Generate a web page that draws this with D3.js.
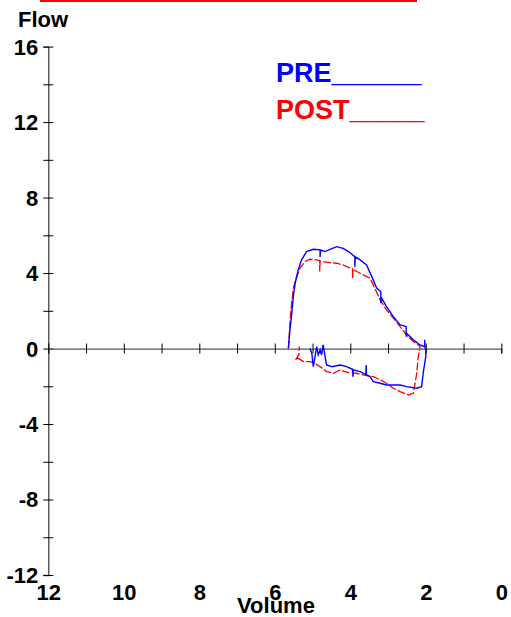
<!DOCTYPE html>
<html>
<head>
<meta charset="utf-8">
<script src="https://cdn.jsdelivr.net/npm/d3@7"></script>
<style>
  body { margin: 0; background: #fff; }
  text { font-family: "Liberation Sans", Arial, sans-serif; font-weight: bold; }
</style>
</head>
<body>
<svg id="chart" width="511" height="617"></svg>
<script>
// flow-volume loops (volume in L, flow in L/s)
var preVolume = [5.64, 5.60, 5.55, 5.51, 5.46, 5.38, 5.29, 5.16, 4.98, 4.80, 4.80, 4.79, 4.67, 4.54, 4.36, 4.19, 4.05, 3.88, 3.88, 3.87, 3.74, 3.57, 3.43, 3.30, 3.19, 3.19, 3.17, 3.04, 2.86, 2.68, 2.52, 2.52, 2.51, 2.33, 2.15, 2.03, 2.03, 2.02, 2.00,
  2.00, 2.07, 2.11, 2.24, 2.51, 2.68, 2.86, 3.04, 3.21, 3.39, 3.48, 3.57, 3.58, 3.59, 3.74, 3.92, 3.93, 3.94, 4.10, 4.27, 4.49, 4.63, 4.72, 4.76, 4.80, 4.85, 4.89, 4.98, 5.02, 5.07];
var preFlow = [0, 0.99, 1.87, 2.75, 3.46, 4.17, 4.70, 5.14, 5.26, 5.23, 4.85, 5.22, 5.14, 5.26, 5.40, 5.31, 5.14, 4.87, 4.34, 4.86, 4.70, 4.43, 3.81, 3.20, 3.01, 2.40, 2.67, 2.22, 1.69, 1.25, 1.16, 0.63, 0.81, 0.46, 0.19, 0.10, 0.46, 0.05, -0.10,
  -0.43, -1.31, -2.02, -2.10, -2.02, -1.93, -1.93, -1.93, -1.84, -1.75, -1.49, -1.40, -0.87, -1.38, -1.22, -1.13, -1.49, -1.10, -0.96, -0.87, -0.96, -0.87, 0.19, -0.34, -0.07, -0.34, 0.10, -0.96, -0.25, 0];

var postVolume = [5.64, 5.58, 5.51, 5.42, 5.33, 5.20, 5.07, 4.89, 4.81, 4.81, 4.80, 4.72, 4.54, 4.36, 4.19, 4.01, 3.94, 3.94, 3.93, 3.83, 3.66, 3.48, 3.35, 3.21, 3.04, 2.86, 2.68, 2.51, 2.33, 2.20, 2.15,
  2.20, 2.24, 2.33, 2.46, 2.68, 2.86, 3.04, 3.21, 3.39, 3.66, 3.83, 4.05, 4.27, 4.45, 4.63, 4.80, 4.94, 5.07, 5.24, 5.38, 5.45, 5.36, 5.35];
var postFlow = [0, 1.87, 3.20, 3.81, 4.26, 4.61, 4.73, 4.70, 4.66, 4.08, 4.65, 4.61, 4.55, 4.52, 4.43, 4.26, 4.22, 3.73, 4.20, 4.08, 3.90, 3.73, 3.20, 2.58, 2.05, 1.61, 1.16, 0.72, 0.37, 0.19, 0.10,
  -0.43, -1.31, -2.37, -2.46, -2.28, -2.10, -1.84, -1.66, -1.49, -1.40, -1.31, -1.28, -1.13, -1.31, -1.22, -0.96, -0.78, -0.69, -0.69, -0.52, -0.60, -0.30, 0.10];

var yTicks = d3.range(-12, 17, 2);
var yLabels = [-12, -8, -4, 0, 4, 8, 12, 16];
var xTicks = d3.range(0, 13, 1);
var xLabels = [12, 10, 8, 6, 4, 2, 0];

var svg = d3.select("#chart");

var x = d3.scaleLinear().domain([12, 0]).range([48.3, 501.3]);
var y = d3.scaleLinear().domain([-12, 16]).range([575, 46.6]);

// top red rule (clipped title underline)
svg.append("line")
  .attr("x1", 40).attr("x2", 417)
  .attr("y1", 1).attr("y2", 1)
  .attr("stroke", "#ff0000").attr("stroke-width", 2);

// y axis
var gy = svg.append("g")
  .attr("transform", "translate(" + x(12) + ",0)")
  .call(d3.axisLeft(y).tickValues(yTicks).tickSize(5)
    .tickFormat(function(d) { return yLabels.indexOf(d) >= 0 ? d : ""; }));
gy.select(".domain").attr("stroke", "#444").attr("stroke-width", 1.3);
gy.selectAll(".tick line").attr("x1", -5).attr("x2", 5).attr("stroke", "#000");
gy.selectAll(".tick text")
  .attr("x", -10).attr("dy", "0.34em")
  .attr("font-size", 22).attr("fill", "#000")
  .style("font-family", "'Liberation Sans', Arial, sans-serif").style("font-weight", "bold");

// x axis through zero flow
var gx = svg.append("g")
  .attr("transform", "translate(0," + y(0) + ")")
  .call(d3.axisBottom(x).tickValues(xTicks).tickSize(5).tickFormat(""));
gx.select(".domain").attr("stroke", "#555").attr("stroke-width", 1.3);
gx.selectAll(".tick line").attr("y1", -5).attr("y2", 5).attr("stroke", "#000");

// x labels along the bottom
var gxl = svg.append("g")
  .attr("transform", "translate(0,584.4)")
  .call(d3.axisBottom(x).tickValues(xLabels).tickSize(0).tickPadding(0));
gxl.select(".domain").remove();
gxl.selectAll(".tick text")
  .attr("font-size", 22).attr("fill", "#000")
  .style("font-family", "'Liberation Sans', Arial, sans-serif").style("font-weight", "bold");

// axis titles
svg.append("text").attr("x", 18).attr("y", 27)
  .attr("font-size", 22).attr("fill", "#000").text("Flow");
svg.append("text").attr("x", 276).attr("y", 613).attr("text-anchor", "middle")
  .attr("font-size", 22).attr("fill", "#000").text("Volume");

// legend
svg.append("text").attr("x", 276).attr("y", 82)
  .attr("font-size", 27).attr("fill", "#0000ff").text("PRE______");
svg.append("text").attr("x", 276).attr("y", 119)
  .attr("font-size", 27).attr("fill", "#ff0000").text("POST_____");

var line = d3.line()
  .x(function(d) { return x(d[0]); })
  .y(function(d) { return y(d[1]); });

svg.append("path")
  .datum(d3.zip(postVolume, postFlow))
  .attr("d", line)
  .attr("fill", "none")
  .attr("stroke", "#ff0000")
  .attr("stroke-width", 1.3)
  .attr("stroke-dasharray", "8,2");

svg.append("path")
  .datum(d3.zip(preVolume, preFlow))
  .attr("d", line)
  .attr("fill", "none")
  .attr("stroke", "#0000ff")
  .attr("stroke-width", 1.4);
</script>
</body>
</html>
